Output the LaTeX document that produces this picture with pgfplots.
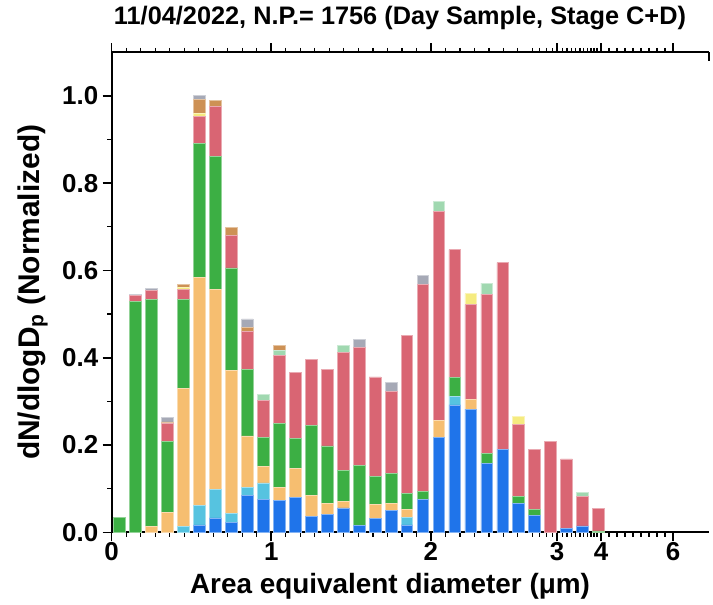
\documentclass[border=0pt]{standalone}
\usepackage{fontspec}
\setmainfont{Liberation Sans}
\usepackage{pgfplots}
\usepackage{pgfplotstable}
\pgfplotsset{compat=1.18}

% particle class colours (bottom to top of each stack)
\definecolor{cBlue}{HTML}{1F74EA}
\definecolor{cCyan}{HTML}{56C3E0}
\definecolor{cOrange}{HTML}{F6BE70}
\definecolor{cGreen}{HTML}{3CAF44}
\definecolor{cRed}{HTML}{D96573}
\definecolor{cLGreen}{HTML}{A0D8B0}
\definecolor{cYellow}{HTML}{F5EB80}
\definecolor{cBrown}{HTML}{CD9155}
\definecolor{cGray}{HTML}{A6A9B6}

% normalised dN/dlogDp per size bin, one column per particle class
\pgfplotstableread{
x     b      c      o      g      r      lg     y      br     gy
0.05  0      0      0      0.034  0      0      0      0      0
0.15  0      0      0      0.530  0.012  0      0      0      0.004
0.25  0      0      0.013  0.520  0.021  0      0      0      0.005
0.35  0      0      0.045  0.163  0.042  0      0      0.003  0.010
0.45  0      0.013  0.317  0.204  0.023  0      0.005  0.007  0
0.55  0.017  0.044  0.523  0.308  0.062  0      0.005  0.033  0.009
0.65  0.033  0.065  0.458  0.305  0.114  0      0      0.015  0
0.75  0.022  0.022  0.326  0.236  0.075  0      0      0.018  0
0.85  0.085  0.017  0.119  0.153  0.086  0      0      0.009  0.020
0.95  0.076  0.037  0.038  0.066  0.085  0.013  0      0      0
1.05  0.0725 0      0.030  0.147  0.156  0.011  0      0.011  0
1.15  0.079  0      0.068  0.068  0.151  0      0      0      0
1.25  0.037  0      0.048  0.160  0.151  0      0      0      0
1.35  0.040  0      0.026  0.132  0.175  0      0      0      0
1.45  0.056  0      0.014  0.072  0.270  0.016  0      0      0
1.55  0.015  0      0      0.138  0.271  0      0      0      0.018
1.65  0.031  0      0.032  0.065  0.228  0      0      0      0
1.75  0.050  0      0.017  0.068  0.188  0      0      0      0.021
1.85  0.017  0.018  0.018  0.036  0.363  0      0      0      0
1.95  0.076  0      0      0.018  0.475  0      0      0      0.020
2.05  0.218  0      0.039  0      0.479  0.022  0      0      0
2.15  0.292  0.020  0      0.042  0.294  0      0      0      0
2.25  0.282  0      0.023  0      0.217  0      0.025  0      0
2.35  0.158  0      0      0.023  0.365  0.025  0      0      0
2.45  0.189  0      0      0      0.429  0      0      0      0
2.55  0.066  0      0      0.016  0.166  0      0.018  0      0
2.65  0.039  0      0      0.013  0.137  0      0      0      0
2.75  0      0      0      0      0.208  0      0      0      0
2.85  0.009  0      0      0      0.159  0      0      0      0
2.95  0.0145 0      0      0      0.0675 0.009  0      0      0
3.05  0      0      0      0.003  0.051  0      0      0      0
}\datatable

\begin{document}
\begin{tikzpicture}
\path[use as bounding box] (-111.7bp,-72.7bp) rectangle (601.3bp,532.3bp);
\begin{axis}[
  at={(0,0)}, anchor=south west,
  scale only axis,
  width=597.3bp, height=480bp,
  xmin=0, xmax=3.7425,
  ymin=0, ymax=1.1,
  ybar stacked, bar width=11.7bp, bar shift=0pt,
  axis x line=box, axis y line=left,
  axis line style={-, line width=2bp},
  tick align=outside,
  xtick={0,1,2,2.790,3.066,3.517},
  xticklabels={0,1,2,3,4,6},
  minor xtick={0.0909,0.1818,0.2727,0.3636,0.4545,0.5455,0.6364,0.7273,0.8182,0.9091,
               1.0909,1.1818,1.2727,1.3636,1.4545,1.5455,1.6364,1.7273,1.8182,1.9091,
               2.093,2.182,2.272,2.364,2.456,2.544,2.635,2.679,2.723,2.763,
               2.823,2.853,2.882,2.907,2.934,2.957,2.980,3.003,3.022,3.041,
               3.116,3.166,3.216,3.266,3.316,3.366,3.416,3.467},
  ytick={0,0.2,0.4,0.6,0.8,1.0},
  yticklabels={0.0,0.2,0.4,0.6,0.8,1.0},
  minor ytick={0.1,0.3,0.5,0.7,0.9},
  major tick length=9bp, minor tick length=4.5bp,
  every tick/.style={black, line width=1.6bp},
  every minor tick/.append style={line width=1.3bp},
  /pgf/number format/assume math mode=true,
  ticklabel style={font=\bfseries\fontsize{26}{26}\selectfont},
  xticklabel style={yshift=2bp},
  yticklabel style={xshift=-1bp},
  title={11/04/2022, N.P.= 1756 (Day Sample, Stage C+D)},
  title style={at={(axis description cs:0.4827,1.0465)}, anchor=base,
               font=\bfseries\fontsize{25.4}{25.4}\selectfont},
  xlabel={Area equivalent diameter (μm)},
  xlabel style={at={(axis description cs:0.466,-0.1056)}, anchor=center, yshift=-3bp,
                font=\bfseries\fontsize{28}{28}\selectfont},
  ylabel={dN/dlogD$_{\mathbf{p}}$ (Normalized)},
  ylabel style={at={(axis description cs:-0.1318,0.5)}, anchor=center,
                font=\bfseries\fontsize{30}{30}\selectfont},
  clip=false,
]
\addplot[fill=cBlue,   draw=cBlue!55!white,   line width=0.7bp] table[x=x,y=b]  {\datatable};
\addplot[fill=cCyan,   draw=cCyan!55!white,   line width=0.7bp] table[x=x,y=c]  {\datatable};
\addplot[fill=cOrange, draw=cOrange!55!white, line width=0.7bp] table[x=x,y=o]  {\datatable};
\addplot[fill=cGreen,  draw=cGreen!55!white,  line width=0.7bp] table[x=x,y=g]  {\datatable};
\addplot[fill=cRed,    draw=cRed!55!white,    line width=0.7bp] table[x=x,y=r]  {\datatable};
\addplot[fill=cLGreen, draw=cLGreen!55!white, line width=0.7bp] table[x=x,y=lg] {\datatable};
\addplot[fill=cYellow, draw=cYellow!55!white, line width=0.7bp] table[x=x,y=y]  {\datatable};
\addplot[fill=cBrown,  draw=cBrown!55!white,  line width=0.7bp] table[x=x,y=br] {\datatable};
\addplot[fill=cGray,   draw=cGray!55!white,   line width=0.7bp] table[x=x,y=gy] {\datatable};
% short stub closing the right end of the top axis line
\draw[line width=1.6bp] (rel axis cs:1,1) -- ++(0,-9bp);
\end{axis}
\end{tikzpicture}
\end{document}
